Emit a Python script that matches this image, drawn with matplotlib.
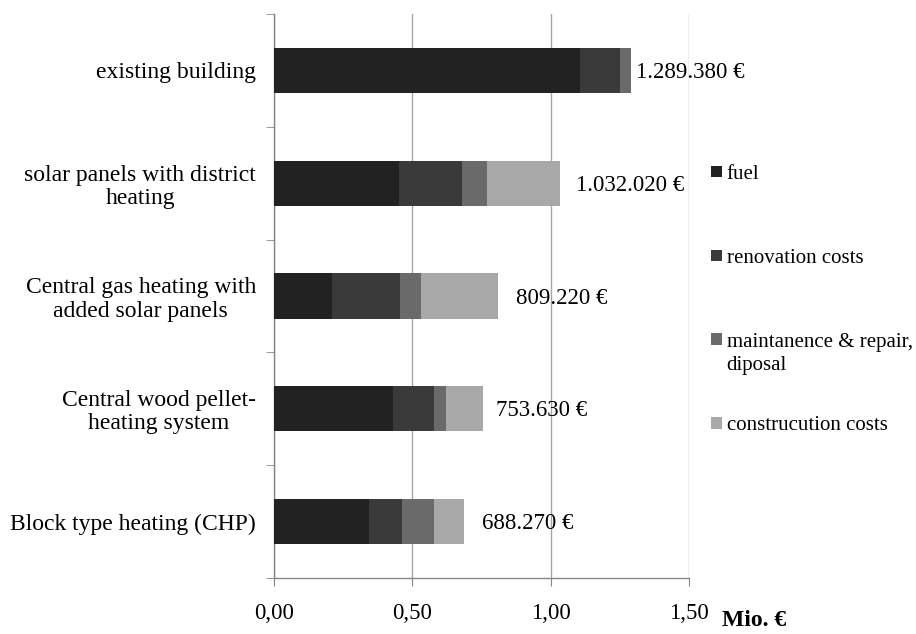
import matplotlib
matplotlib.use("Agg")
import matplotlib.pyplot as plt
import numpy as np

categories = [
    "existing building",
    "solar panels with district\nheating",
    "Central gas heating with\nadded solar panels",
    "Central wood pellet-\nheating system",
    "Block type heating (CHP)",
]
fuel = [1.105, 0.451, 0.209, 0.430, 0.344]
renovation = [0.147, 0.230, 0.247, 0.149, 0.117]
maintenance = [0.037, 0.090, 0.077, 0.041, 0.118]
construction = [0.000, 0.261, 0.276, 0.134, 0.109]
totals_label = ["1.289.380 €", "1.032.020 €", "809.220 €", "753.630 €", "688.270 €"]
series_names = ["fuel", "renovation costs", "maintanence & repair,", "construcution costs"]
series_extra_line = ["", "", "diposal", ""]
xticks = [0.0, 0.5, 1.0, 1.5]
xtick_labels = ["0,00", "0,50", "1,00", "1,50"]
xunit = "Mio. €"

colors = ["#222222", "#3a3a3a", "#6a6a6a", "#a8a8a8"]
label_offsets_px = [5, 16, 18, 13, 18]

plt.rcParams["font.family"] = ["Liberation Serif", "DejaVu Serif"]

fig = plt.figure(figsize=(9.16, 6.34), dpi=100)
ax = fig.add_axes([274 / 916, 1 - 578 / 634, (689 - 274) / 916, (578 - 14) / 634])

y = np.arange(len(categories))
left = np.zeros(len(categories))
handles = []
for vals, col, name in zip([fuel, renovation, maintenance, construction], colors, series_names):
    b = ax.barh(y, vals, left=left, height=0.4, color=col, label=name, zorder=3)
    handles.append(b)
    left = left + np.array(vals)

for i, (tot, lab) in enumerate(zip(left, totals_label)):
    ax.annotate(lab, xy=(tot, y[i]), xytext=(label_offsets_px[i] * 0.72, -1.5),
                textcoords="offset points", va="center", ha="left", fontsize=16.5, zorder=5)

ax.set_xlim(0, 1.5)
ax.set_ylim(len(categories) - 0.5, -0.5)
ax.set_xticks(xticks)
ax.set_xticklabels(xtick_labels, fontsize=16.5)
ax.set_yticks(y)
ax.set_yticklabels(categories, fontsize=17, linespacing=1.13, ha="right", multialignment="center")
ax.tick_params(axis="y", which="major", length=0, pad=13)
ax.set_yticks(np.arange(-0.5, len(categories), 1.0), minor=True)
ax.tick_params(axis="y", which="minor", length=6, color="#868686", direction="out")
ax.tick_params(axis="x", which="major", length=6, color="#868686", direction="out", pad=12)

ax.grid(axis="x", color="#a6a6a6", linewidth=1.0, zorder=0)
for s in ["top", "right"]:
    ax.spines[s].set_visible(False)
for s in ["left", "bottom"]:
    ax.spines[s].set_color("#868686")
    ax.spines[s].set_linewidth(1.0)

fig.text(722 / 916, 1 - 620 / 634, xunit, fontsize=17, fontweight="bold", va="center", ha="left")

leg = fig.legend(handles=handles, labels=series_names, loc="upper left",
                 bbox_to_anchor=(711 / 916, 1 - 165 / 634), frameon=False, fontsize=15,
                 borderaxespad=0, borderpad=0,
                 handlelength=0.55, handleheight=0.47, handletextpad=0.2, labelspacing=3.11)

fig.canvas.draw()
renderer = fig.canvas.get_renderer()
inv = fig.transFigure.inverted()
for txt, extra in zip(leg.get_texts(), series_extra_line):
    if extra:
        bb = txt.get_window_extent(renderer)
        x0, y0 = inv.transform((bb.x0, bb.y0 - 23))
        fig.text(x0, y0, extra, fontsize=15, ha="left", va="bottom")

fig.savefig("out.png", dpi=100)
